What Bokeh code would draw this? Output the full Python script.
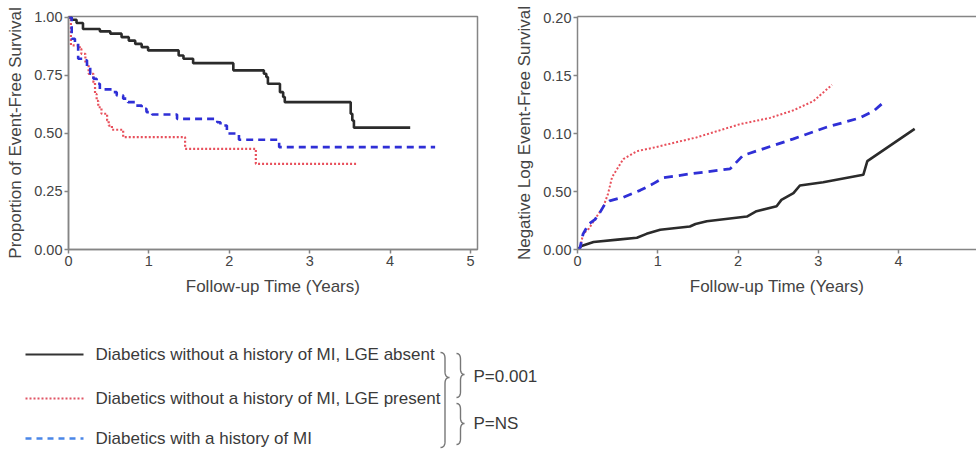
from bokeh.plotting import figure
from bokeh.layouts import column, row
from bokeh.models import Range1d, FixedTicker, LinearAxis
from bokeh.embed import file_html
from bokeh.resources import INLINE

# ---------------- data ----------------
# Kaplan-Meier (left panel): event times (years) and event-free survival
km_absent_t = [0, 0.04, 0.10, 0.18, 0.39, 0.52, 0.66, 0.75, 0.83, 0.91, 0.99, 1.37, 1.43, 1.55,
               2.05, 2.43, 2.46, 2.48, 2.63, 2.67, 2.69, 3.51, 3.53, 3.55, 4.25]
km_absent_s = [1.0, 0.99, 0.976, 0.95, 0.94, 0.93, 0.915, 0.90, 0.886, 0.872, 0.858, 0.836, 0.822, 0.803,
               0.772, 0.757, 0.743, 0.714, 0.678, 0.657, 0.635, 0.585, 0.556, 0.525, 0.525]

km_present_t = [0, 0.03, 0.14, 0.16, 0.21, 0.25, 0.31, 0.33, 0.35, 0.37, 0.41, 0.48, 0.50, 0.54,
                0.68, 1.45, 2.33, 3.59]
km_present_s = [1.0, 0.88, 0.865, 0.843, 0.80, 0.757, 0.72, 0.67, 0.64, 0.613, 0.585, 0.556, 0.534, 0.516,
                0.484, 0.434, 0.369, 0.369]

km_mi_t = [0, 0.04, 0.08, 0.12, 0.21, 0.23, 0.27, 0.31, 0.35, 0.39, 0.56, 0.60, 0.68, 0.74, 0.83,
           0.91, 0.97, 1.04, 1.35, 1.85, 1.89, 1.97, 2.12, 2.62, 4.56]
km_mi_s = [1.0, 0.908, 0.887, 0.822, 0.815, 0.786, 0.757, 0.736, 0.714, 0.69, 0.678, 0.664, 0.65, 0.635, 0.62,
           0.606, 0.592, 0.582, 0.563, 0.548, 0.534, 0.50, 0.473, 0.441, 0.441]

# Negative log event-free survival (right panel)
nl_absent_t = [0, 0.05, 0.2, 0.5, 0.74, 0.86, 1.03, 1.40, 1.47, 1.61, 2.11, 2.23, 2.48, 2.54, 2.69,
               2.77, 3.06, 3.56, 3.61, 4.20]
nl_absent_v = [0, 0.003, 0.0065, 0.0085, 0.0101, 0.0135, 0.017, 0.0198, 0.022, 0.0244, 0.0284, 0.033,
               0.0373, 0.0428, 0.0486, 0.0552, 0.058, 0.0644, 0.0762, 0.104]

nl_present_t = [0, 0.03, 0.07, 0.14, 0.22, 0.32, 0.38, 0.43, 0.57, 0.74, 0.94, 1.48, 2.02, 2.40,
                2.69, 2.94, 3.17]
nl_present_v = [0, 0.0006, 0.0135, 0.0178, 0.0265, 0.0365, 0.048, 0.0623, 0.078, 0.0848, 0.0877,
                0.0966, 0.108, 0.1135, 0.12, 0.128, 0.142]

nl_mi_t = [0, 0.03, 0.07, 0.14, 0.22, 0.28, 0.34, 0.40, 0.57, 0.78, 0.94, 1.07, 1.40, 1.90, 2.06,
           2.40, 2.69, 3.10, 3.52, 3.70, 3.83]
nl_mi_v = [0, 0.001, 0.0135, 0.022, 0.026, 0.032, 0.039, 0.042, 0.045, 0.051, 0.0566, 0.0618, 0.0652,
           0.0695, 0.081, 0.0888, 0.0954, 0.1054, 0.1135, 0.12, 0.128]

x_ticks = [0, 1, 2, 3, 4, 5]
y_ticks_left = [0, 0.25, 0.5, 0.75, 1.0]
y_labels_left = ["0.00", "0.25", "0.50", "0.75", "1.00"]
y_ticks_right = [0, 0.05, 0.10, 0.15, 0.20]
y_labels_right = ["0.00", "0.50", "0.10", "0.15", "0.20"]

x_title = "Follow-up Time (Years)"
y_title_left = "Proportion of Event-Free Survival"
y_title_right = "Negative Log Event-Free Survival"

legend_labels = ["Diabetics without a history of MI, LGE absent",
                 "Diabetics without a history of MI, LGE present",
                 "Diabetics with a history of MI"]
p_labels = ["P=0.001", "P=NS"]

# ---------------- styles ----------------
FONT = "Liberation Sans"
GREY = "#858585"
TXT = "#444444"
C_BLACK = "#2b2b2b"
C_RED = "#e8505c"
C_BLUE = "#2f2fd6"


def style_axes(p):
    for ax in p.axis:
        ax.axis_line_color = GREY
        ax.axis_line_width = 1.5
        ax.major_tick_line_color = GREY
        ax.major_tick_line_width = 1.5
        ax.major_tick_out = 4
        ax.major_tick_in = 0
        ax.minor_tick_line_color = None
        ax.major_label_text_font = FONT
        ax.major_label_text_font_size = "14.5px"
        ax.major_label_text_color = TXT
        ax.axis_label_text_font = FONT
        ax.axis_label_text_font_size = "17px"
        ax.axis_label_text_font_style = "normal"
        ax.axis_label_text_color = TXT
        ax.major_label_standoff = 2
    p.xaxis.axis_label_standoff = 8
    p.yaxis.axis_label_standoff = 6
    p.grid.visible = False


# ---------------- left panel ----------------
p1 = figure(width=490, height=300, output_backend="svg", toolbar_location=None,
            x_range=Range1d(0, 5.087), y_range=Range1d(0, 1.004),
            min_border_left=68, min_border_right=13, min_border_top=16, min_border_bottom=51)
p1.outline_line_color = GREY
p1.outline_line_width = 1.5
p1.xaxis.ticker = FixedTicker(ticks=x_ticks)
p1.yaxis.ticker = FixedTicker(ticks=y_ticks_left)
p1.yaxis.major_label_overrides = {t: l for t, l in zip(y_ticks_left, y_labels_left)}
p1.xaxis.axis_label = x_title
p1.yaxis.axis_label = y_title_left
style_axes(p1)

p1.step(km_absent_t, km_absent_s, mode="after", line_color=C_BLACK, line_width=2.6)
p1.step(km_present_t, km_present_s, mode="after", line_color=C_RED, line_width=2.2, line_dash="2 2")
p1.step(km_mi_t, km_mi_s, mode="after", line_color=C_BLUE, line_width=2.6, line_dash="7 5")

# ---------------- right panel ----------------
p2 = figure(width=486, height=300, output_backend="svg", toolbar_location=None,
            x_range=Range1d(0, 4.97), y_range=Range1d(0, 0.2009),
            min_border_left=87, min_border_right=0, min_border_top=16, min_border_bottom=51)
p2.outline_line_color = None
p2.xaxis.ticker = FixedTicker(ticks=x_ticks)
p2.yaxis.ticker = FixedTicker(ticks=y_ticks_right)
p2.yaxis.major_label_overrides = {t: l for t, l in zip(y_ticks_right, y_labels_right)}
p2.xaxis.axis_label = x_title
p2.yaxis.axis_label = y_title_right
style_axes(p2)
top_ax = LinearAxis(ticker=FixedTicker(ticks=[]), axis_line_color=GREY, axis_line_width=1.5,
                    major_tick_line_color=None, minor_tick_line_color=None,
                    major_label_text_font_size="0px")
p2.add_layout(top_ax, "above")

p2.line(nl_absent_t, nl_absent_v, line_color=C_BLACK, line_width=2.6)
p2.line(nl_present_t, nl_present_v, line_color=C_RED, line_width=2.0, line_dash="2 2")
p2.line(nl_mi_t, nl_mi_v, line_color=C_BLUE, line_width=2.8, line_dash="9 6")

# ---------------- legend panel ----------------
p3 = figure(width=976, height=150, output_backend="svg", toolbar_location=None,
            x_range=Range1d(0, 976), y_range=Range1d(450, 300),
            min_border_left=0, min_border_right=0, min_border_top=0, min_border_bottom=0)
p3.axis.visible = False
p3.grid.visible = False
p3.outline_line_color = None

row_y = [354, 398, 438]
sample_style = [dict(line_color="#333333", line_width=2.2),
                dict(line_color="#e05565", line_width=1.8, line_dash="2 2"),
                dict(line_color="#4a86e8", line_width=2.4, line_dash="6 5")]
for yy, st in zip(row_y, sample_style):
    p3.line([25, 83], [yy, yy], **st)
p3.text(x=[95] * 3, y=row_y, text=legend_labels, text_font={"value": FONT},
        text_font_size="17px", text_color="#3a3a3a", text_baseline="middle", text_align="left")


def brace(x0, w, y0, y1, ytip, r):
    xm = x0 + w * 0.5

    def quad(a, c, b, n=10):
        out = []
        for i in range(n + 1):
            t = i / n
            out.append(((1 - t) ** 2 * a[0] + 2 * (1 - t) * t * c[0] + t ** 2 * b[0],
                        (1 - t) ** 2 * a[1] + 2 * (1 - t) * t * c[1] + t ** 2 * b[1]))
        return out
    pts = []
    pts += quad((x0, y0), (xm, y0), (xm, y0 + r))
    pts += quad((xm, ytip - r), (xm, ytip), (x0 + w, ytip))
    pts += quad((x0 + w, ytip), (xm, ytip), (xm, ytip + r))
    pts += quad((xm, y1 - r), (xm, y1), (x0, y1))
    return [q[0] for q in pts], [q[1] for q in pts]


for args in [(440, 9, 352, 447, 377, 6), (456, 8, 353, 397, 374, 6), (456, 8, 403, 444, 423, 6)]:
    bx, by = brace(*args)
    p3.line(bx, by, line_color="#777777", line_width=1.4)

p3.text(x=[473, 473], y=[376, 423], text=p_labels, text_font={"value": FONT},
        text_font_size="17px", text_color="#3a3a3a", text_baseline="middle", text_align="left")

layout = column(row(p1, p2), p3)
open("out.html", "w").write(file_html(layout, INLINE))
